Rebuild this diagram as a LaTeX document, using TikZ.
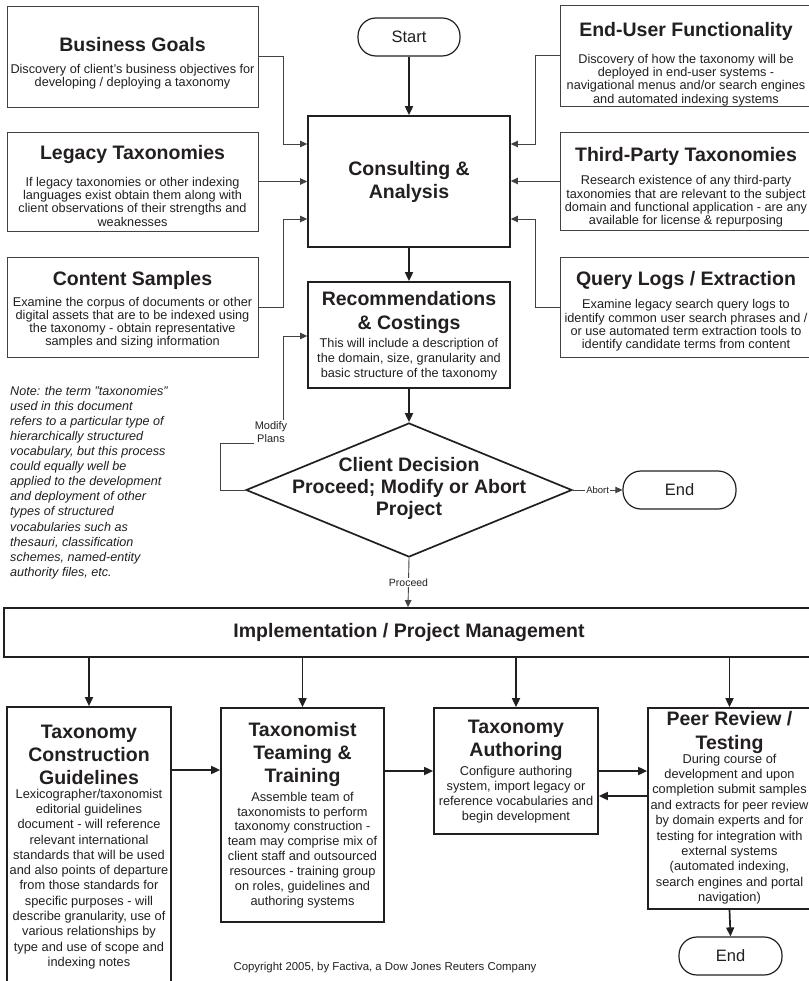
\documentclass[tikz,border=0pt]{standalone}
\usepackage{fontspec}
\setmainfont{Liberation Sans}
\usetikzlibrary{arrows.meta,shapes.geometric}
\definecolor{txt}{HTML}{231F20}
\definecolor{ln}{HTML}{231F20}
\begin{document}
\begin{tikzpicture}[x=1pt,y=-1pt,
  every node/.style={text=txt},
  sbox/.style={draw=ln!85, line width=0.9pt, inner sep=0, rectangle},
  mbox/.style={draw=ln, line width=1.7pt, inner sep=0, rectangle},
  pill/.style={draw=ln, line width=1.2pt, rounded corners=18pt, inner sep=0, font=\fontsize{16.5}{19}\selectfont},
  hd/.style={font=\fontsize{19.5}{23}\selectfont\bfseries, align=center, inner sep=0},
  bd/.style={font=\fontsize{12.7}{13.3}\selectfont, align=center, inner sep=0},
  bdb/.style={font=\fontsize{12.8}{15.2}\selectfont, align=center, inner sep=0},
  lbl/.style={font=\fontsize{10.5}{13}\selectfont, align=center, inner sep=1pt, fill=white},
  thin/.style={draw=ln!85, line width=0.9pt},
  thick/.style={draw=ln, line width=1.7pt},
  tipS/.style={-{Triangle[length=7pt,width=6.5pt]}},
  tipL/.style={-{Triangle[length=9pt,width=8pt]}},
]
\useasboundingbox (0,0) rectangle (808,981);
\fill[white] (0,0) rectangle (808,981);

% ---- side boxes (left)
\node[sbox, minimum width=251pt, minimum height=101pt] (bg) at (132.5,56.5) {};
\node[hd] (bgh) at (132.5,45) {Business Goals};
\node[bd] (bgt) at (132.5,77) {Discovery of client's business objectives for\\developing / deploying a taxonomy};

\node[sbox, minimum width=251pt, minimum height=99pt] (lt) at (132.5,181.5) {};
\node[hd] (lth) at (132.5,155) {Legacy Taxonomies};
\node[bd] (ltt) at (132.5,201.7) {If legacy taxonomies or other indexing\\languages exist obtain them along with\\client observations of their strengths and\\weaknesses};

\node[sbox, minimum width=251pt, minimum height=100pt] (cs) at (132.5,307) {};
\node[hd] (csh) at (132.5,280) {Content Samples};
\node[bd] (cst) at (132.5,322.7) {Examine the corpus of documents or other\\digital assets that are to be indexed using\\the taxonomy - obtain representative\\samples and sizing information};

% ---- side boxes (right)
\node[sbox, minimum width=252pt, minimum height=101pt] (eu) at (686,55.5) {};
\node[hd] (euh) at (686,31.7) {End-User Functionality};
\node[bd] (eut) at (686,80) {Discovery of how the taxonomy will be\\deployed in end-user systems -\\navigational menus and/or search engines\\and automated indexing systems};

\node[sbox, minimum width=252pt, minimum height=98pt] (tp) at (686,181) {};
\node[hd] (tph) at (686,156.7) {Third-Party Taxonomies};
\node[bd] (tpt) at (686,201.5) {Research existence of any third-party\\taxonomies that are relevant to the subject\\domain and functional application - are any\\available for license \& repurposing};

\node[sbox, minimum width=252pt, minimum height=100pt] (ql) at (686,307) {};
\node[hd] (qlh) at (686,280.7) {Query Logs / Extraction};
\node[bd] (qlt) at (686,325.4) {Examine legacy search query logs to\\identify common user search phrases and /\\or use automated term extraction tools to\\identify candidate terms from content};

% ---- main column
\node[pill, minimum width=102pt, minimum height=38pt] (start) at (409,37) {Start};
\node[mbox, minimum width=202pt, minimum height=131pt] (ca) at (409,181.5) {};
\node[hd] (cah) at (409,181.5) {Consulting \&\\Analysis};

\node[mbox, minimum width=202pt, minimum height=106pt] (rc) at (409,335) {};
\node[hd, font=\fontsize{19.5}{24.5}\selectfont\bfseries] (rch) at (409,312.5) {Recommendations\\\& Costings};
\node[bd, font=\fontsize{12.7}{15}\selectfont] (rct) at (409,359) {This will include a description of\\the domain, size, granularity and\\basic structure of the taxonomy};

\node[diamond, draw=ln, line width=1.7pt, minimum width=326pt, minimum height=134pt, inner sep=0] (dec) at (409,490) {};
\node[hd, font=\fontsize{19.5}{21.7}\selectfont\bfseries] (dech) at (409,488.5) {Client Decision\\Proceed; Modify or Abort\\Project};

\node[pill, minimum width=113pt, minimum height=38pt] (end1) at (679.5,490) {End};

\node[mbox, minimum width=808pt, minimum height=49pt] (impl) at (408,632.5) {};
\node[hd] (implh) at (409,632.5) {Implementation / Project Management};

% ---- bottom row
\node[mbox, minimum width=164pt, minimum height=277pt] (tcg) at (89,845.5) {};
\node[hd] (tcgh) at (89,755) {Taxonomy\\Construction\\Guidelines};
\node[bdb, font=\fontsize{12.8}{15.3}\selectfont] (tcgt) at (89,879) {Lexicographer/taxonomist\\editorial guidelines\\document - will reference\\relevant international\\standards that will be used\\and also points of departure\\from those standards for\\specific purposes - will\\describe granularity, use of\\various relationships by\\type and use of scope and\\indexing notes};

\node[mbox, minimum width=163pt, minimum height=214pt] (tt) at (302.5,815) {};
\node[hd] (tth) at (302.5,754.7) {Taxonomist\\Teaming \&\\Training};
\node[bdb, font=\fontsize{12.8}{14.9}\selectfont] (ttt) at (302.5,850) {Assemble team of\\taxonomists to perform\\taxonomy construction -\\team may comprise mix of\\client staff and outsourced\\resources - training group\\on roles, guidelines and\\authoring systems};

\node[mbox, minimum width=164pt, minimum height=126pt] (ta) at (516,771) {};
\node[hd] (tah) at (516,740.5) {Taxonomy\\Authoring};
\node[bdb, font=\fontsize{12.8}{15}\selectfont] (tat) at (516,794.5) {Configure authoring\\system, import legacy or\\reference vocabularies and\\begin development};

\node[mbox, minimum width=163pt, minimum height=201pt] (pr) at (729.5,808.5) {};
\node[hd, font=\fontsize{19.5}{24}\selectfont\bfseries] (prh) at (729.5,732.5) {Peer Review /\\Testing};
\node[bdb, font=\fontsize{12.8}{15.4}\selectfont] (prt) at (729.5,829) {During course of\\development and upon\\completion submit samples\\and extracts for peer review\\by domain experts and for\\testing for integration with\\external systems\\(automated indexing,\\search engines and portal\\navigation)};

\node[pill, minimum width=103pt, minimum height=38pt] (end2) at (730.5,956) {End};

% ---- note and copyright
\node[font=\fontsize{12.6}{15.1}\selectfont\itshape, align=left, anchor=west, inner sep=0] (note) at (10,482.5) {Note: the term "taxonomies"\\used in this document\\refers to a particular type of\\hierarchically structured\\vocabulary, but this process\\could equally well be\\applied to the development\\and deployment of other\\types of structured\\vocabularies such as\\thesauri, classification\\schemes, named-entity\\authority files, etc.};
\node[font=\fontsize{11.4}{13}\selectfont, inner sep=0] (copy) at (385,968) {Copyright 2005, by Factiva, a Dow Jones Reuters Company};

% ---- connectors into Consulting
\draw[thin, tipS] (bg.east) -| (283,144) -- (ca.west |- 283,144);
\draw[thin, tipS] (lt.east) -- (ca.west |- lt.east);
\draw[thin, tipS] (cs.east) -| (283,219) -- (ca.west |- 283,219);
\draw[thin, tipS] (eu.west) -| (535,144) -- (ca.east |- 535,144);
\draw[thin, tipS] (tp.west) -- (ca.east |- tp.west);
\draw[thin, tipS] (ql.west) -| (535,219) -- (ca.east |- 535,219);

% ---- main flow
\draw[thick, tipL] (start.south) -- (ca.north);
\draw[thick, tipL] (ca.south) -- (rc.north);
\draw[thick, tipL] (rc.south) -- (dec.north);
\draw[thin, tipS] (dec.west) -- (220,490) -- (220,443) -- (283,443) -- (283,336) -- (rc.west |- 283,336);
\node[lbl, font=\fontsize{11}{13.5}\selectfont] (mp) at (271,432) {Modify\\Plans};
\draw[thin, tipS] (dec.east) -- node[lbl, font=\fontsize{9.5}{11}\selectfont] (ab) {Abort} (end1.west);
\draw[thin, tipS] (dec.south) -- node[lbl] (pc) {Proceed} (impl.north);

% ---- implementation fan-out
\draw[thick, tipL] (impl.south -| tcg.north) -- (tcg.north);
\draw[thick, tipL] (impl.south -| tt.north) -- (tt.north);
\draw[thick, tipL] (impl.south -| ta.north) -- (ta.north);
\draw[thick, tipL] (impl.south -| pr.north) -- (pr.north);

% ---- bottom row flow
\draw[thick, tipL] (tcg.east |- 0,770) -- (tt.west |- 0,770);
\draw[thick, tipL] (tt.east |- 0,771) -- (ta.west |- 0,771);
\draw[thick, tipL] (ta.east |- 0,771) -- (pr.west |- 0,771);
\draw[thick, tipL] (pr.west |- 0,796) -- (ta.east |- 0,796);
\draw[thick, tipL] (pr.south) -- (end2.north);
\end{tikzpicture}
\end{document}
